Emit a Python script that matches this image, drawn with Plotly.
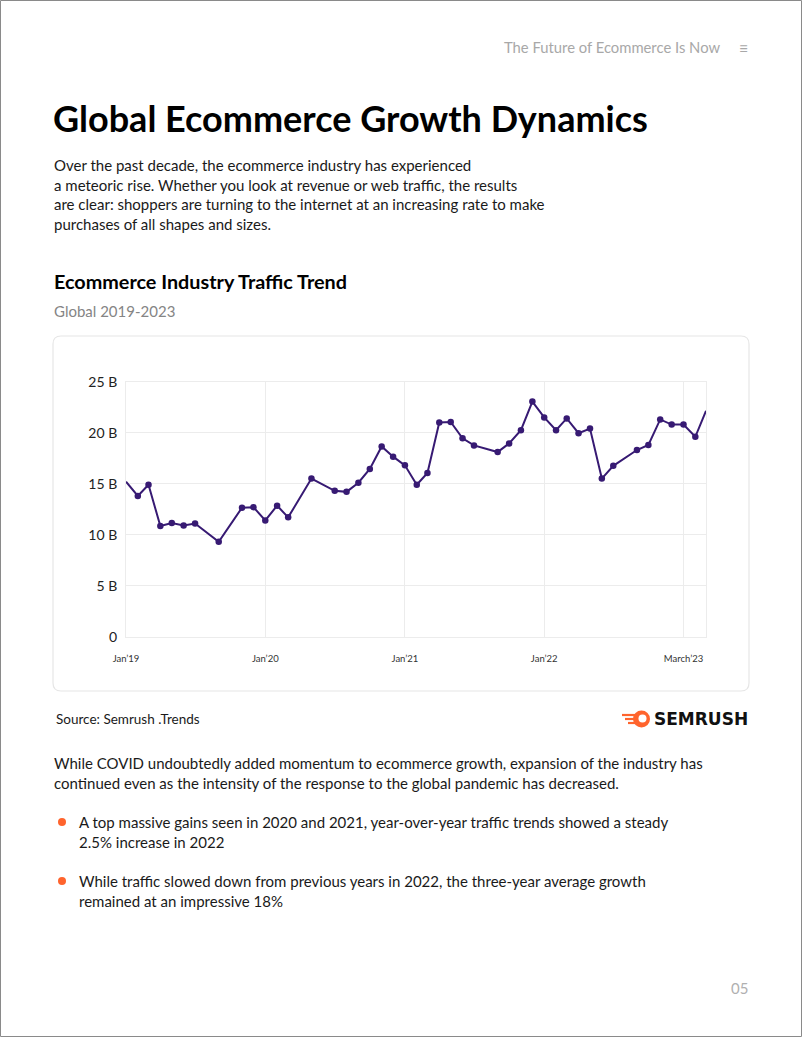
import plotly.graph_objects as go

W, H = 802, 1037

# ---- data ----
months = ["2019-01-01", "2019-02-01", "2019-03-01", "2019-04-01", "2019-05-01", "2019-06-01",
          "2019-07-01", "2019-09-01", "2019-11-01", "2019-12-01", "2020-01-01", "2020-02-01",
          "2020-03-01", "2020-05-01", "2020-07-01", "2020-08-01", "2020-09-01", "2020-10-01",
          "2020-11-01", "2020-12-01", "2021-01-01", "2021-02-01", "2021-03-01", "2021-04-01",
          "2021-05-01", "2021-06-01", "2021-07-01", "2021-09-01", "2021-10-01", "2021-11-01",
          "2021-12-01", "2022-01-01", "2022-02-01", "2022-03-01", "2022-04-01", "2022-05-01",
          "2022-06-01", "2022-07-01", "2022-09-01", "2022-10-01", "2022-11-01", "2022-12-01",
          "2023-01-01", "2023-02-01", "2023-03-01"]
traffic_b = [15.2, 13.8, 14.9, 10.85, 11.15, 10.9,
             11.1, 9.3, 12.65, 12.7, 11.4, 12.85,
             11.7, 15.5, 14.3, 14.2, 15.1, 16.45,
             18.65, 17.65, 16.8, 14.9, 16.05, 21.0,
             21.05, 19.45, 18.75, 18.1, 18.95, 20.25,
             23.05, 21.5, 20.25, 21.4, 19.95, 20.4,
             15.5, 16.75, 18.3, 18.8, 21.3, 20.8,
             20.8, 19.6, 22.15]
x_tick_vals = ["2019-01-01", "2020-01-01", "2021-01-01", "2022-01-01", "2023-01-01"]
x_tick_text = ["Jan’19", "Jan’20", "Jan’21", "Jan’22", "March’23"]
y_tick_vals = [0, 5, 10, 15, 20, 25]
y_tick_text = ["0", "5 B", "10 B", "15 B", "20 B", "25 B"]

LINE = "#371a73"
ORANGE = "#ff642d"
FONT = "Lato"


def px(x):
    return x / W


def py(y):
    return 1 - y / H


marker_sizes = [0] + [6.5] * (len(traffic_b) - 2) + [0]

fig = go.Figure()
fig.add_trace(go.Scatter(
    x=months, y=traffic_b, mode="lines+markers",
    line=dict(color=LINE, width=2),
    marker=dict(color=LINE, size=marker_sizes, opacity=1, line=dict(width=0)),
    cliponaxis=False, showlegend=False, hoverinfo="skip",
))

fig.update_layout(
    width=W, height=H,
    margin=dict(l=0, r=0, t=0, b=0, autoexpand=False),
    paper_bgcolor="white", plot_bgcolor="white",
    font=dict(family=FONT, color="#1a1a1a"),
    xaxis=dict(
        domain=[px(126), px(706)],
        type="date",
        range=["2019-01-01", "2023-03-01"],
        tickvals=x_tick_vals, ticktext=x_tick_text,
        tickfont=dict(size=9.5, color="#333333", family=FONT),
        showgrid=True, gridcolor="#ececec", gridwidth=1,
        showline=True, linecolor="#ececec", mirror=True,
        ticks="outside", ticklen=13, tickcolor="rgba(0,0,0,0)",
        zeroline=False, fixedrange=True, automargin=False,
    ),
    yaxis=dict(
        domain=[py(636.7), py(381.7)],
        range=[0, 25],
        tickvals=y_tick_vals, ticktext=y_tick_text,
        tickfont=dict(size=14, color="#222222", family=FONT),
        showgrid=True, gridcolor="#ececec", gridwidth=1,
        showline=True, linecolor="#ececec", mirror=True,
        ticks="outside", ticklen=5, tickcolor="rgba(0,0,0,0)",
        zeroline=False, fixedrange=True, automargin=False,
    ),
)

shapes = []
# page border
shapes.append(dict(type="rect", xref="paper", yref="paper",
                   x0=px(0.5), x1=px(801.5), y0=py(1036.5), y1=py(0.5),
                   line=dict(color="#8a8a8a", width=1), layer="above"))
# chart card (rounded rect)
x0, x1, y0, y1, r = 53, 749, 336, 691, 8


def P(x, y):
    return f"{px(x)},{py(y)}"


card = (f"M {P(x0 + r, y0)} L {P(x1 - r, y0)} Q {P(x1, y0)} {P(x1, y0 + r)} "
        f"L {P(x1, y1 - r)} Q {P(x1, y1)} {P(x1 - r, y1)} L {P(x0 + r, y1)} "
        f"Q {P(x0, y1)} {P(x0, y1 - r)} L {P(x0, y0 + r)} Q {P(x0, y0)} {P(x0 + r, y0)} Z")
shapes.append(dict(type="path", xref="paper", yref="paper", path=card,
                   line=dict(color="#e6e6e6", width=1.2), fillcolor="rgba(0,0,0,0)", layer="below"))
# bullets
for yb in (822, 881):
    shapes.append(dict(type="circle", xref="paper", yref="paper",
                       x0=px(58), x1=px(66), y0=py(yb + 4), y1=py(yb - 4),
                       fillcolor=ORANGE, line=dict(width=0)))
# semrush icon: ring + flame streaks
shapes.append(dict(type="circle", xref="paper", yref="paper",
                   x0=px(633), x1=px(650), y0=py(727.5), y1=py(710.5),
                   fillcolor=ORANGE, line=dict(width=0)))
shapes.append(dict(type="circle", xref="paper", yref="paper",
                   x0=px(638.5), x1=px(646.5), y0=py(722.5), y1=py(714.5),
                   fillcolor="white", line=dict(width=0)))
for (xa, xb, yy, wd) in [(622, 636, 715, 2.2), (625, 636, 719, 2.2), (628, 636, 723, 2.2)]:
    shapes.append(dict(type="line", xref="paper", yref="paper",
                       x0=px(xa), x1=px(xb), y0=py(yy), y1=py(yy),
                       line=dict(color=ORANGE, width=wd)))
fig.update_layout(shapes=shapes)

ann = []


def T(x, y, text, size, color="#1a1a1a", xanchor="left", family=FONT, bold=False):
    if bold:
        text = f"<b>{text}</b>"
    ann.append(dict(x=px(x), y=py(y), xref="paper", yref="paper", text=text,
                    showarrow=False, xanchor=xanchor, yanchor="middle",
                    font=dict(size=size, color=color, family=family)))


T(722, 47, "The Future of Ecommerce Is Now", 14.8, "#a8a8a8", xanchor="right")
T(743.5, 47, "≡", 16, "#a8a8a8", xanchor="center")
T(51, 118, "Global Ecommerce Growth Dynamics", 36, "#000000", bold=True)
para1 = ["Over the past decade, the ecommerce industry has experienced",
         "a meteoric rise. Whether you look at revenue or web traffic, the results",
         "are clear: shoppers are turning to the internet at an increasing rate to make",
         "purchases of all shapes and sizes."]
for i, line in enumerate(para1):
    T(52, 165 + i * 19.7, line, 15, "#1a1a1a")
T(52, 281, "Ecommerce Industry Traffic Trend", 19.8, "#000000", bold=True)
T(52, 311, "Global 2019-2023", 15, "#858585")
T(54, 719, "Source: Semrush .Trends", 13.5, "#1a1a1a")
T(652, 719, "SEMRUSH", 17, "#111111", family="Arial Black, DejaVu Sans", bold=True)
para2 = ["While COVID undoubtedly added momentum to ecommerce growth, expansion of the industry has",
         "continued even as the intensity of the response to the global pandemic has decreased."]
for i, line in enumerate(para2):
    T(52, 763 + i * 19.5, line, 15, "#1a1a1a")
b1 = ["A top massive gains seen in 2020 and 2021, year-over-year traffic trends showed a steady",
      "2.5% increase in 2022"]
b2 = ["While traffic slowed down from previous years in 2022, the three-year average growth",
      "remained at an impressive 18%"]
for i, line in enumerate(b1):
    T(77, 822 + i * 19.5, line, 15, "#1a1a1a")
for i, line in enumerate(b2):
    T(77, 881 + i * 19.5, line, 15, "#1a1a1a")
T(739, 988, "05", 15, "#b0b0b0", xanchor="center")

fig.update_layout(annotations=ann)
fig.write_html(
    "out.html",
    config={"displayModeBar": False, "staticPlot": True},
    post_script="document.documentElement.style.overflow='hidden';"
                "document.body.style.margin='0';document.body.style.overflow='hidden';",
)
